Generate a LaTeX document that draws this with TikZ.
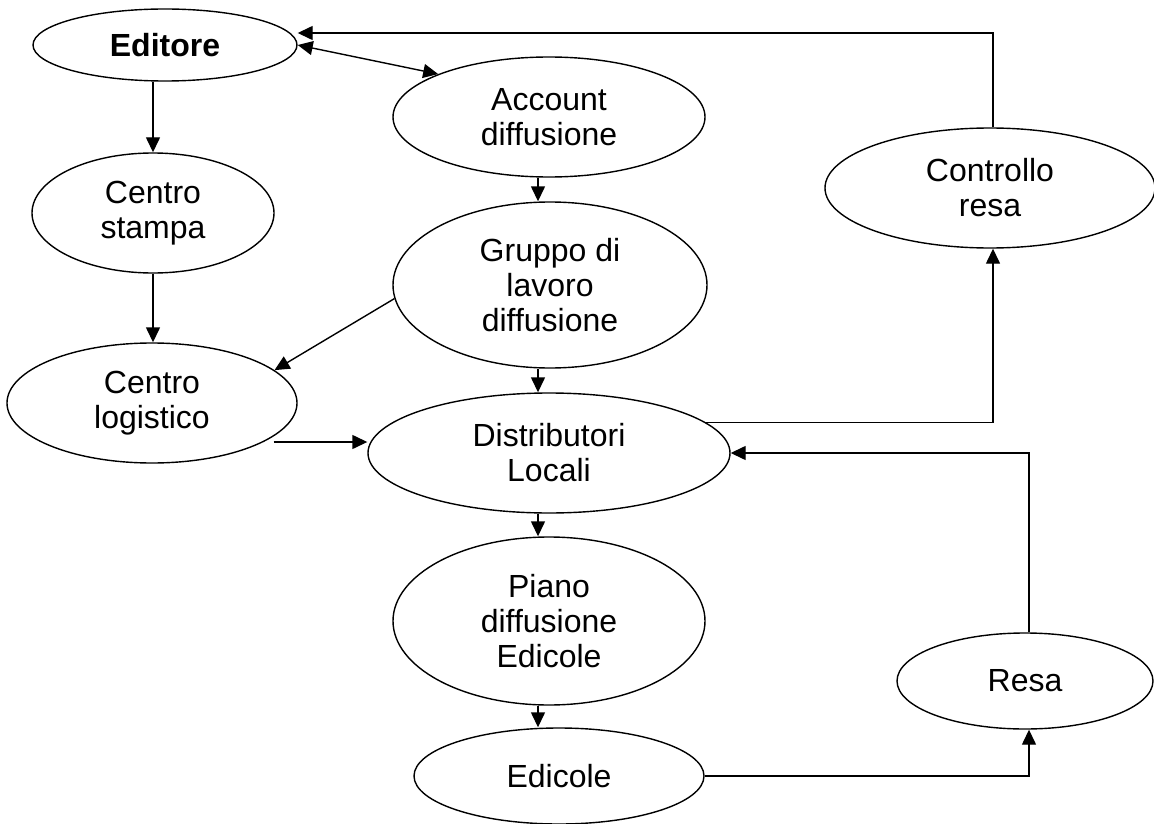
\documentclass[tikz,border=0pt]{standalone}
\usepackage{fontspec}
\setmainfont{Liberation Sans}
\usetikzlibrary{shapes.geometric,arrows.meta}
\tikzset{
  ell/.style={draw, ellipse, line width=1.4pt, inner sep=0pt, align=center,
    font=\fontsize{32}{35}\selectfont},
  arr/.style={line width=1.4pt, -{Triangle[length=15pt,width=14pt]}},
  darr/.style={line width=1.4pt, {Triangle[length=15pt,width=14pt]}-{Triangle[length=15pt,width=14pt]}}
}
\begin{document}
\begin{tikzpicture}[x=1pt,y=-1pt]
\useasboundingbox (0,0) rectangle (1154,824);
\node[ell, minimum width=264pt, minimum height=72pt] (ed) at (165,45) {\textbf{Editore}};
\node[ell, minimum width=312pt, minimum height=120pt] (acc) at (549,117) {Account\\diffusione};
\node[ell, minimum width=330pt, minimum height=120pt] (ctrl) at (990,188) {Controllo\\resa};
\node[ell, minimum width=242pt, minimum height=120pt] (cs) at (153,213) {Centro\\stampa};
\node[ell, minimum width=314pt, minimum height=166pt] (gr) at (550,285) {Gruppo di\\lavoro\\diffusione};
\node[ell, minimum width=290pt, minimum height=120pt] (cl) at (152,403) {Centro\\logistico};
\node[ell, minimum width=362pt, minimum height=120pt] (dist) at (549,453) {Distributori\\Locali};
\node[ell, minimum width=312pt, minimum height=168pt] (pl) at (549,621) {Piano\\diffusione\\Edicole};
\node[ell, minimum width=256pt, minimum height=96pt] (resa) at (1025,681) {Resa};
\node[ell, minimum width=290pt, minimum height=96pt] (edi) at (559,776) {Edicole};

\draw[arr] ([xshift=3pt]ctrl.north) |- ([yshift=12pt]ed.east);
\draw[darr] (ed.east) -- (acc.north west);
\draw[arr] (ed.south -| cs.north) -- (cs.north);
\draw[arr] ([xshift=-11pt]acc.south) -- ([xshift=-11pt]acc.south |- gr.north);
\draw[arr] (cs.south) -- (cs.south |- cl.north);
\draw[arr] (gr.185) -- (cl.15);
\draw[arr] ([xshift=-24pt,yshift=-39pt]cl.east) -- ([yshift=11pt]dist.west);
\draw[arr] ([xshift=-12pt]gr.south) -- ([xshift=-12pt]gr.south |- dist.north);
\draw[arr] ([xshift=-11pt]dist.south) -- ([xshift=-11pt]dist.south |- pl.north);
\draw[arr] (dist.11) -| ([xshift=3pt]ctrl.south);
\draw[arr] ([xshift=4pt]resa.north) |- (dist.east);
\draw[arr] ([xshift=-11pt]pl.south) -- ([xshift=-11pt]pl.south |- edi.north);
\draw[arr] (edi.east) -| ([xshift=4pt]resa.south);
\end{tikzpicture}
\end{document}
